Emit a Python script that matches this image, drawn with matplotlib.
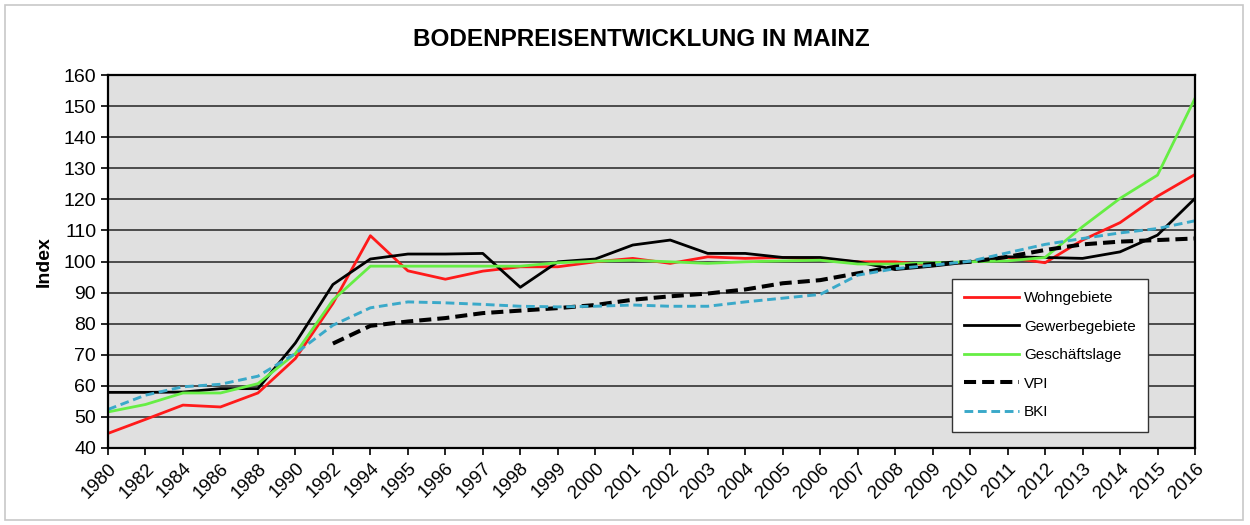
import numpy as np
import matplotlib
matplotlib.use("Agg")
import matplotlib.pyplot as plt
from matplotlib.patches import Rectangle

plt.rcParams['font.family'] = ['Liberation Sans', 'DejaVu Sans']

years = ["1980", "1982", "1984", "1986", "1988", "1990", "1992", "1994",
         "1995", "1996", "1997", "1998", "1999", "2000", "2001", "2002",
         "2003", "2004", "2005", "2006", "2007", "2008", "2009", "2010",
         "2011", "2012", "2013", "2014", "2015", "2016"]

wohn = [44.7, 49.2, 53.8, 53.2, 57.7, 68.8, 86.5, 108.3,
        97.0, 94.3, 96.9, 98.3, 98.3, 99.9, 101.0, 99.4,
        101.5, 101.0, 101.3, 100.7, 99.9, 99.9, 98.8, 99.9,
        101.3, 99.6, 106.9, 112.5, 121.0, 128.0]
gewerbe = [57.9, 57.9, 58.0, 59.1, 59.1, 73.8, 92.6, 100.8,
           102.4, 102.4, 102.6, 91.7, 99.9, 100.8, 105.3, 106.9,
           102.6, 102.6, 101.3, 101.3, 99.9, 97.4, 98.5, 99.9,
           101.5, 101.3, 101.0, 103.1, 108.5, 120.3]
geschaeft = [51.6, 54.0, 57.7, 57.7, 60.7, 70.4, 87.6, 98.5,
             98.5, 98.5, 98.5, 98.5, 99.6, 100.1, 100.4, 99.9,
             99.4, 99.9, 100.2, 100.4, 99.2, 99.2, 99.6, 99.9,
             100.2, 101.3, 111.2, 120.3, 127.8, 152.5]
vpi = [np.nan, np.nan, np.nan, np.nan, np.nan, np.nan, 73.6, 79.3,
       80.7, 81.8, 83.4, 84.2, 85.0, 86.0, 87.7, 88.8,
       89.7, 91.0, 93.0, 94.0, 96.2, 98.3, 99.2, 99.9,
       101.5, 103.7, 105.5, 106.4, 106.9, 107.4]
bki = [52.4, 57.0, 59.7, 60.5, 63.1, 70.4, 79.5, 85.1,
       87.0, 86.7, 86.2, 85.6, 85.4, 85.6, 86.0, 85.6,
       85.6, 87.0, 88.2, 89.4, 95.6, 97.7, 98.8, 100.1,
       102.8, 105.5, 107.4, 109.2, 110.6, 113.1]

x = np.arange(len(years))

fig = plt.figure(figsize=(12.5, 5.25), dpi=100)
ax = fig.add_axes([108 / 1250, 1 - 448 / 525, (1195 - 108) / 1250, (448 - 75) / 525])
fig.patches.append(Rectangle((5 / 1250, 5 / 525), 1238 / 1250, 515 / 525, transform=fig.transFigure,
                             fill=False, edgecolor='#c8c8c8', linewidth=1.2))

ax.set_facecolor('#e0e0e0')
ax.plot(x, wohn, color='#ff1a1a', lw=2.0, label='Wohngebiete')
ax.plot(x, gewerbe, color='black', lw=2.0, label='Gewerbegebiete')
ax.plot(x, geschaeft, color='#66ee44', lw=2.0, label='Geschäftslage')
ax.plot(x, vpi, color='black', lw=2.9, ls=(0, (3, 1.5)), label='VPI')
ax.plot(x, bki, color='#3aa9c9', lw=2.1, ls=(0, (3, 1.6)), label='BKI')

ax.set_xlim(0, len(years) - 1)
ax.set_ylim(40, 160)
ax.set_yticks(np.arange(40, 161, 10))
ax.set_xticks(x)
ax.set_xticklabels(years, rotation=45, ha='right', rotation_mode='anchor', fontsize=13.5)
ax.tick_params(axis='y', labelsize=14, length=5, width=1.2, direction='out')
ax.tick_params(axis='x', length=5, width=1.2, direction='out')
ax.yaxis.grid(True, color='#333333', lw=1.2)
ax.set_axisbelow(True)
for s in ax.spines.values():
    s.set_linewidth(1.6)
    s.set_color('black')

ax.set_ylabel('Index', fontsize=14, fontweight='bold', labelpad=8)
fig.text(0.513, 1 - 40 / 525, 'BODENPREISENTWICKLUNG IN MAINZ', ha='center', va='center',
         fontsize=17.5, fontweight='bold')

leg = ax.legend(loc='upper left', bbox_to_anchor=((952 - 108) / 1087, (448 - 279) / 373),
                fontsize=11, frameon=True, fancybox=False, edgecolor='#333333',
                framealpha=1, handlelength=3.6, labelspacing=0.95, borderpad=0.8,
                handletextpad=0.3, borderaxespad=0)
leg.get_frame().set_linewidth(1.0)

fig.savefig('out.png', dpi=100, facecolor='white')
